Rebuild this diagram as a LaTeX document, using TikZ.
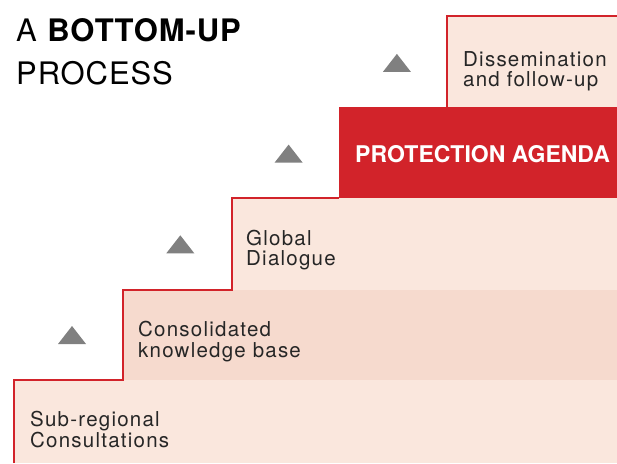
\documentclass[tikz,border=0pt]{standalone}
\usepackage{fontspec}
\setmainfont{TeX Gyre Heros}
\newfontfamily\labelfont[LetterSpace=6]{TeX Gyre Heros}
\newfontfamily\titlefont[LetterSpace=3]{TeX Gyre Heros}
\usepackage{tikz}
\definecolor{figred}{HTML}{D2232A}
\definecolor{figpink}{HTML}{FAE7DD}
\definecolor{figpinkdark}{HTML}{F6DACE}
\definecolor{figgray}{HTML}{808080}
\tikzset{
  steplabel/.style={anchor=base west,align=left,inner sep=0pt,text=black!85,
    font=\labelfont\fontsize{20.5}{20.5}\selectfont},
  stairline/.style={figred,line width=1.6pt}
}

\begin{document}
\begin{tikzpicture}[x=1pt,y=1pt]
  \useasboundingbox (0,0) rectangle (617,463);
  % the stairs, bottom to top
  \fill[figpink] (14,0) rectangle (617,83);
  \fill[figpinkdark] (123,83) rectangle (617,173);
  \fill[figpink] (232,173) rectangle (617,265);
  \fill[figred] (339,265) rectangle (617,356);
  \fill[figpink] (447,356) rectangle (617,447);
  \draw[stairline] (14,0) |- (123,83) |- (232,173) |- (339,265);
  \draw[stairline] (447,356) |- (617,447);
  % small arrows in front of each step
  \foreach \i in {0,...,3} {
    \fill[figgray] ({58+108.3*\i},{119+90.7*\i}) -- ++(28,0) -- ++(-14,18) -- cycle;
  }
  % base anchor sits on the last line
  \node[anchor=base west,inner sep=0pt,align=left,font=\titlefont\fontsize{31}{43}\selectfont]
    (title) at (16,378) {A \textbf{BOTTOM-UP}\\PROCESS};
  \node[steplabel] (subreg) at (30,16) {Sub-regional\\Consultations};
  \node[steplabel] (knowledge) at (138,106) {Consolidated\\knowledge base};
  \node[steplabel] (dialogue) at (246,197) {Global\\Dialogue};
  \node[anchor=base west,inner sep=0pt,text=white,font=\bfseries\fontsize{23}{23}\selectfont]
    (agenda) at (355,300) {PROTECTION AGENDA};
  \node[steplabel] (followup) at (463,376) {Dissemination\\and follow-up};
\end{tikzpicture}
\end{document}
